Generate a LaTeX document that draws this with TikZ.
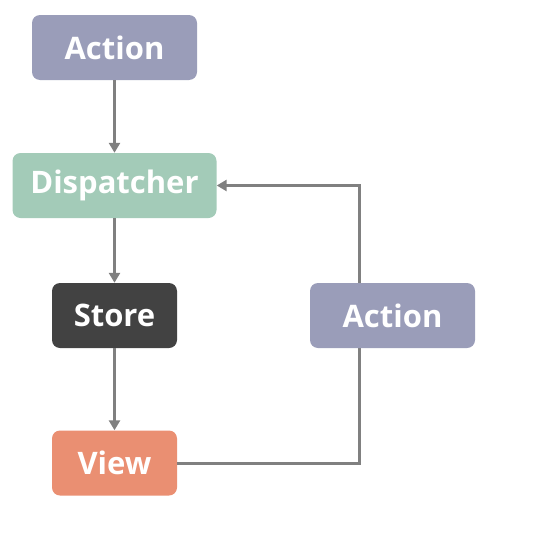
\documentclass[tikz,border=0pt]{standalone}
\usepackage{fontspec}
\setmainfont{Open Sans}
\usetikzlibrary{arrows.meta}
\definecolor{actc}{HTML}{9A9DB9}
\definecolor{dispc}{HTML}{A3CBB8}
\definecolor{storec}{HTML}{424242}
\definecolor{viewc}{HTML}{EA8F72}
\definecolor{linec}{HTML}{808080}
\tikzset{
  box/.style={rounded corners=8pt, minimum height=65pt, inner sep=0pt, text=white,
    font=\fontsize{31}{36}\selectfont\bfseries},
  conn/.style={draw=linec, line width=3pt, -{Triangle[length=10pt,width=11pt]}}
}
\begin{document}
\begin{tikzpicture}[x=1pt,y=-1pt]
\useasboundingbox (0,0) rectangle (546,538);
\node[box, fill=actc, minimum width=165pt] (a1) at (114.5,47.5) {Action};
\node[box, fill=dispc, minimum width=204pt] (d) at (114.5,185.5) {Dispatcher};
\node[box, fill=storec, minimum width=125pt] (s) at (114.5,315.5) {Store};
\node[box, fill=viewc, minimum width=125pt] (v) at (114.5,463) {View};
\coordinate (c1) at (359,463);
\coordinate (c2) at (359,185.5);
\draw[conn] (a1) -- (d);
\draw[conn] (d) -- (s);
\draw[conn] (s) -- (v);
\draw[conn] (v.east) -- (c1) -- (c2) -- (d.east);
\node[box, fill=actc, minimum width=165pt] (a2) at (392.5,315.5) {Action};
\end{tikzpicture}
\end{document}
